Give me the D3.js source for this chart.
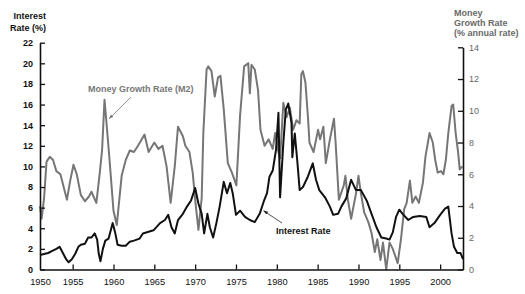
<!DOCTYPE html>
<html>
<head>
<meta charset="utf-8">
<script src="https://cdn.jsdelivr.net/npm/d3@7/dist/d3.min.js"></script>
<style>
  html, body { margin: 0; padding: 0; background: #fff; }
  svg { display: block; font-family: "Liberation Sans", Arial, sans-serif; }
</style>
</head>
<body>
<svg id="chart" width="525" height="294"></svg>
<script>
// ---- Data ----
const irYears = [1951.0,1951.5,1952.0,1952.5,1953.0,1953.4,1953.8,1954.2,1954.5,1954.9,1955.3,1955.7,1956.0,1956.5,1956.9,1957.3,1957.7,1958.0,1958.2,1958.4,1958.7,1959.0,1959.4,1959.7,1959.9,1960.2,1960.5,1961.0,1961.5,1962.0,1962.5,1963.2,1963.6,1964.9,1965.7,1966.3,1966.7,1967.1,1967.5,1967.9,1968.5,1969.0,1969.5,1970.0,1970.4,1970.8,1971.1,1971.5,1971.8,1972.2,1972.6,1973.0,1973.5,1973.9,1974.3,1974.6,1975.0,1975.5,1976.1,1976.7,1977.3,1977.9,1978.4,1978.8,1979.1,1979.5,1979.9,1980.2,1980.4,1980.8,1981.1,1981.4,1981.6,1981.8,1981.9,1982.2,1982.5,1982.8,1983.2,1983.8,1984.4,1984.8,1985.2,1985.9,1986.5,1986.9,1987.5,1987.9,1988.5,1989.1,1989.7,1990.3,1991.0,1991.6,1992.2,1992.8,1993.4,1993.8,1994.2,1994.6,1995.0,1995.4,1996.1,1996.7,1997.5,1998.3,1998.7,1999.3,2000.0,2000.6,2001.0,2001.4,2001.7,2002.1,2002.5,2002.8];
const irValues = [1.4,1.5,1.6,1.8,2.0,2.2,1.6,1.0,0.7,1.0,1.5,2.2,2.4,2.5,3.1,3.1,3.5,2.9,1.5,0.8,2.0,2.8,3.0,3.9,4.5,3.6,2.4,2.3,2.3,2.7,2.8,3.0,3.5,3.8,4.5,4.8,5.3,4.1,3.5,4.8,5.4,6.1,6.7,7.9,6.4,5.4,3.5,5.4,4.1,3.1,4.5,6.1,8.5,7.4,8.4,7.4,5.3,5.7,5.1,4.8,4.6,5.4,6.6,7.4,9.0,9.6,11.6,15.2,7.0,12.3,15.5,16.1,15.2,14.2,10.9,13.2,10.6,7.7,8.0,9.0,10.3,8.7,7.7,7.0,6.1,5.3,5.4,6.1,6.9,8.7,7.7,7.7,6.7,5.4,4.1,3.1,3.0,2.9,3.6,5.1,5.8,5.4,4.8,5.1,5.2,5.1,4.1,4.5,5.3,5.9,6.1,3.5,2.2,1.6,1.6,1.0];

const m2Years = [1951.0,1951.2,1951.5,1951.8,1952.2,1952.6,1953.0,1953.5,1954.0,1954.3,1954.7,1955.1,1955.5,1956.0,1956.5,1957.0,1957.3,1957.9,1958.3,1958.6,1958.9,1959.1,1959.5,1960.0,1960.4,1961.0,1961.5,1962.0,1962.5,1963.0,1963.8,1964.3,1965.0,1965.5,1966.0,1966.5,1967.0,1967.5,1967.9,1968.5,1968.8,1969.3,1969.7,1970.0,1970.4,1970.8,1971.0,1971.4,1971.6,1972.0,1972.4,1972.8,1973.1,1973.5,1974.0,1974.5,1975.05,1975.5,1976.0,1976.5,1976.7,1976.9,1977.3,1977.7,1978.0,1978.5,1979.0,1979.5,1979.8,1980.2,1980.4,1980.8,1981.2,1981.6,1982.0,1982.4,1982.8,1983.0,1983.2,1983.5,1983.8,1984.0,1984.5,1985.05,1985.3,1985.7,1986.0,1986.5,1987.0,1987.2,1987.6,1988.2,1988.4,1988.7,1989.1,1989.7,1990.0,1990.3,1990.7,1991.2,1991.6,1992.0,1992.3,1992.7,1993.0,1993.4,1993.8,1994.2,1994.8,1995.2,1995.6,1995.9,1996.3,1996.6,1997.0,1997.4,1997.9,1998.2,1998.7,1999.1,1999.4,1999.7,2000.1,2000.4,2000.7,2001.0,2001.4,2001.6,2001.9,2002.2,2002.4,2002.7];
const m2Values = [4.0,3.2,4.5,6.8,7.1,6.9,6.2,6.0,5.0,4.4,5.6,6.6,6.0,4.7,4.3,4.6,4.9,4.2,6.0,7.5,10.7,9.5,7.0,3.7,2.8,5.9,6.9,7.5,7.4,7.8,8.5,7.4,8.0,7.6,7.8,6.5,4.2,6.5,9.0,8.4,7.8,7.4,6.1,4.4,2.5,4.5,8.6,12.6,12.8,12.5,10.9,12.1,12.2,10.1,6.7,6.1,5.3,9.7,12.8,13.0,11.1,12.9,12.6,11.3,8.8,7.8,8.2,7.6,8.6,7.4,7.0,10.5,9.6,10.2,8.8,9.4,9.2,12.3,12.5,11.8,9.7,8.0,7.4,8.8,8.2,9.0,6.7,8.2,9.5,8.0,4.4,5.3,5.9,4.4,3.2,4.8,5.9,4.8,3.6,3.0,2.3,1.1,1.9,0.6,1.7,0.0,1.7,1.3,0.4,1.9,3.8,4.2,5.6,4.2,4.6,4.2,5.5,7.1,8.6,8.0,6.9,6.1,6.2,6.0,6.9,8.6,10.3,10.4,8.6,7.4,6.3,6.5];

const xTickYears  = [1951, 1955, 1960, 1965, 1970, 1975, 1980, 1985, 1990, 1995, 2000];
const xTickLabels = ["1950","1955","1960","1965","1970","1975","1980","1985","1990","1995","2000"];
const leftTicks  = [0,2,4,6,8,10,12,14,16,18,20,22];
const rightTicks = [0,2,4,6,8,10,12,14];

// ---- Layout ----
const svg = d3.select("#chart");
const L = 40, R = 463, B = 269.5;

const x  = d3.scaleLinear().domain([1951, 2002.8]).range([L, R]);
const yL = d3.scaleLinear().domain([0, 22]).range([B, 42.7]);
const yR = d3.scaleLinear().domain([0, 14]).range([B, 47.3]);

const ir = irYears.map((t, i) => ({t, v: irValues[i]}));
const m2 = m2Years.map((t, i) => ({t, v: m2Values[i]}));

// ---- Lines ----
svg.append("path").datum(m2)
  .attr("fill", "none").attr("stroke", "#767676").attr("stroke-width", 2)
  .attr("stroke-linejoin", "round")
  .attr("d", d3.line().x(d => x(d.t)).y(d => yR(d.v)));

svg.append("path").datum(ir)
  .attr("fill", "none").attr("stroke", "#111").attr("stroke-width", 2)
  .attr("stroke-linejoin", "round")
  .attr("d", d3.line().x(d => x(d.t)).y(d => yL(d.v)));

// ---- Axes ----
const gL = svg.append("g").attr("transform", `translate(${L},0)`)
  .call(d3.axisRight(yL).tickValues(leftTicks).tickSize(5).tickSizeOuter(0).tickFormat(d3.format("d")));
gL.selectAll("text").attr("x", -7).attr("text-anchor", "end")
  .attr("font-size", 9).attr("font-weight", "bold").attr("fill", "#111")
  .attr("font-family", "Liberation Sans, Arial, sans-serif");
gL.selectAll("line").attr("stroke", "#111").attr("stroke-width", 1.3);
gL.select(".domain").attr("stroke", "#111").attr("stroke-width", 1.6);

const gR = svg.append("g").attr("transform", `translate(${R},0)`)
  .call(d3.axisLeft(yR).tickValues(rightTicks).tickSize(5).tickSizeOuter(0).tickFormat(d3.format("d")));
gR.selectAll("text").attr("x", 6).attr("text-anchor", "start")
  .attr("font-size", 9).attr("fill", "#666")
  .attr("font-family", "Liberation Sans, Arial, sans-serif");
gR.selectAll("line").attr("stroke", "#111").attr("stroke-width", 1.3);
gR.select(".domain").attr("stroke", "#111").attr("stroke-width", 1.6);

const gB = svg.append("g").attr("transform", `translate(0,${B})`)
  .call(d3.axisTop(x).tickValues(xTickYears).tickSize(5).tickSizeOuter(0)
        .tickFormat((d, i) => xTickLabels[i]));
gB.selectAll("text").attr("y", 14).attr("dy", "0.2em")
  .attr("font-size", 9.3).attr("fill", "#111")
  .attr("font-family", "Liberation Sans, Arial, sans-serif");
gB.selectAll(".tick line").attr("stroke", "#111").attr("stroke-width", 1.3)
  .attr("opacity", (d, i) => i === 0 ? 0 : 1);
gB.select(".domain").attr("stroke", "#111").attr("stroke-width", 1.6);

// ---- Axis titles ----
const tL = svg.append("text").attr("text-anchor", "end")
  .attr("font-size", 9).attr("font-weight", "bold").attr("fill", "#111");
tL.append("tspan").attr("x", 46).attr("y", 19).text("Interest");
tL.append("tspan").attr("x", 46).attr("y", 30.5).text("Rate (%)");

const tR = svg.append("text").attr("text-anchor", "start")
  .attr("font-size", 9).attr("font-weight", "bold").attr("fill", "#6a6a6a");
tR.append("tspan").attr("x", 454).attr("y", 15.5).text("Money");
tR.append("tspan").attr("x", 454).attr("y", 25.7).text("Growth Rate");
tR.append("tspan").attr("x", 454).attr("y", 35.9).text("(% annual rate)");

// ---- Annotations ----
const defs = svg.append("defs");
function head(id, color) {
  defs.append("marker").attr("id", id).attr("viewBox", "0 0 10 10")
    .attr("refX", 9).attr("refY", 5).attr("markerWidth", 6).attr("markerHeight", 6)
    .attr("orient", "auto")
    .append("path").attr("d", "M0,1.5 L10,5 L0,8.5 Z").attr("fill", color);
}
head("ahGray", "#777");
head("ahBlack", "#222");

svg.append("text").attr("x", 88).attr("y", 92)
  .attr("font-size", 9).attr("font-weight", "bold").attr("fill", "#777")
  .text("Money Growth Rate (M2)");
// arrow toward the 1959 M2 peak shoulder
const mPt = {x: x(1959.1) + 3, y: yR(9.5)};
svg.append("line").attr("x1", 131).attr("y1", 97).attr("x2", mPt.x).attr("y2", mPt.y)
  .attr("stroke", "#777").attr("stroke-width", 0.8).attr("marker-end", "url(#ahGray)");

svg.append("text").attr("x", 276).attr("y", 234)
  .attr("font-size", 9).attr("font-weight", "bold").attr("fill", "#111")
  .text("Interest Rate");
const iPt = {x: x(1977.9) + 4, y: yL(5.4) - 3};
svg.append("line").attr("x1", 282).attr("y1", 223).attr("x2", iPt.x).attr("y2", iPt.y)
  .attr("stroke", "#222").attr("stroke-width", 0.8).attr("marker-end", "url(#ahBlack)");
</script>
</body>
</html>
